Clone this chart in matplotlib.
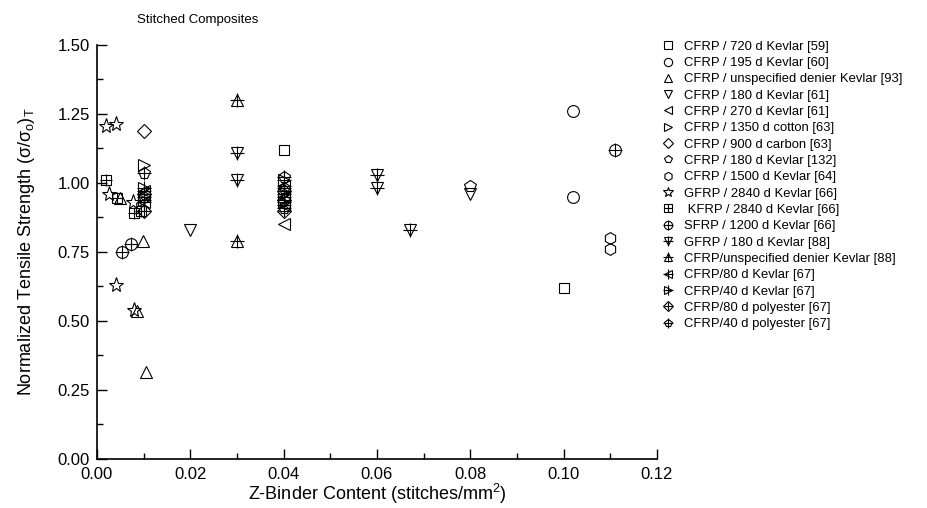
import matplotlib
matplotlib.use('Agg')
import matplotlib.pyplot as plt

plt.rcParams['font.family'] = ['Liberation Sans', 'DejaVu Sans']
plt.rcParams['mathtext.fontset'] = 'custom'
plt.rcParams['mathtext.rm'] = 'Liberation Sans'
plt.rcParams['mathtext.it'] = 'Liberation Sans:italic'

# data (z-binder content, normalized strength)
k720_x = [0.040, 0.100]
k720_y = [1.12, 0.62]
k195_x = [0.102, 0.102]
k195_y = [1.26, 0.95]
kuns93_x = [0.0050, 0.0098, 0.0086, 0.0105]
kuns93_y = [0.945, 0.79, 0.535, 0.315]
k180_61_x = [0.020, 0.080]
k180_61_y = [0.83, 0.96]
k270_x = [0.040]
k270_y = [0.85]
cotton_x = [0.010]
cotton_y = [1.065]
carbon_x = [0.010]
carbon_y = [1.19]
k180_132_x = [0.080]
k180_132_y = [0.99]
k1500_x = [0.110, 0.110]
k1500_y = [0.80, 0.76]
gfrp2840_x = [0.0020, 0.0040, 0.0025, 0.0040, 0.0080, 0.0078]
gfrp2840_y = [1.205, 1.215, 0.96, 0.63, 0.54, 0.93]
kfrp2840_x = [0.0020, 0.0042, 0.0080, 0.0095]
kfrp2840_y = [1.01, 0.945, 0.89, 0.90]
sfrp1200_x = [0.0054, 0.0072, 0.111]
sfrp1200_y = [0.75, 0.78, 1.12]
gfrp180_x = [0.030, 0.030, 0.060, 0.060, 0.067]
gfrp180_y = [1.11, 1.01, 1.03, 0.98, 0.83]
cuns88_x = [0.030, 0.030]
cuns88_y = [1.30, 0.79]
k80_x = [0.010, 0.010, 0.040, 0.040, 0.040]
k80_y = [0.97, 0.93, 0.99, 0.95, 0.92]
k40_x = [0.010, 0.010, 0.040, 0.040, 0.040]
k40_y = [0.98, 0.94, 1.01, 0.96, 0.93]
p80_x = [0.010, 0.010, 0.040, 0.040, 0.040]
p80_y = [0.96, 0.90, 0.97, 0.94, 0.90]
p40_x = [0.010, 0.010, 0.040, 0.040, 0.040]
p40_y = [1.035, 0.95, 1.02, 0.98, 0.91]

labels = [
    'CFRP / 720 d Kevlar [59]',
    'CFRP / 195 d Kevlar [60]',
    'CFRP / unspecified denier Kevlar [93]',
    'CFRP / 180 d Kevlar [61]',
    'CFRP / 270 d Kevlar [61]',
    'CFRP / 1350 d cotton [63]',
    'CFRP / 900 d carbon [63]',
    'CFRP / 180 d Kevlar [132]',
    'CFRP / 1500 d Kevlar [64]',
    'GFRP / 2840 d Kevlar [66]',
    ' KFRP / 2840 d Kevlar [66]',
    'SFRP / 1200 d Kevlar [66]',
    'GFRP / 180 d Kevlar [88]',
    'CFRP/unspecified denier Kevlar [88]',
    'CFRP/80 d Kevlar [67]',
    'CFRP/40 d Kevlar [67]',
    'CFRP/80 d polyester [67]',
    'CFRP/40 d polyester [67]',
]

# (x, y, marker shape, crossed with a plus?)
series = [
    (k720_x, k720_y, 's', False),
    (k195_x, k195_y, 'o', False),
    (kuns93_x, kuns93_y, '^', False),
    (k180_61_x, k180_61_y, 'v', False),
    (k270_x, k270_y, '<', False),
    (cotton_x, cotton_y, '>', False),
    (carbon_x, carbon_y, 'D', False),
    (k180_132_x, k180_132_y, 'p', False),
    (k1500_x, k1500_y, 'h', False),
    (gfrp2840_x, gfrp2840_y, '*', False),
    (kfrp2840_x, kfrp2840_y, 's', True),
    (sfrp1200_x, sfrp1200_y, 'o', True),
    (gfrp180_x, gfrp180_y, 'v', True),
    (cuns88_x, cuns88_y, '^', True),
    (k80_x, k80_y, '<', True),
    (k40_x, k40_y, '>', True),
    (p80_x, p80_y, 'D', True),
    (p40_x, p40_y, 'p', True),
]

sizes = {'s': 7.5, 'o': 8.5, '^': 9, 'v': 9, '<': 9, '>': 9, 'D': 7,
         'p': 8.5, 'h': 8.5, '*': 11}

fig = plt.figure(figsize=(9.28, 5.08), dpi=100)
ax = fig.add_axes([0.1045, 0.0965, 0.6034, 0.815])

handles = []
for x, y, m, crossed in series:
    ms = sizes[m]
    h1, = ax.plot(x, y, ls='none', marker=m, ms=ms, mfc='none',
                  mec='black', mew=0.8)
    if crossed:
        h2, = ax.plot(x, y, ls='none', marker='+', ms=ms + 1,
                      mec='black', mew=0.8)
        handles.append((h1, h2))
    else:
        handles.append(h1)

ax.set_xlim(0, 0.12)
ax.set_ylim(0, 1.5)
ax.set_xticks([0.00, 0.02, 0.04, 0.06, 0.08, 0.10, 0.12])
ax.set_xticks([0.01, 0.03, 0.05, 0.07, 0.09, 0.11], minor=True)
ax.set_yticks([0.00, 0.25, 0.50, 0.75, 1.00, 1.25, 1.50])
ax.set_yticks([0.125, 0.375, 0.625, 0.875, 1.125, 1.375], minor=True)
ax.xaxis.set_major_formatter(plt.FormatStrFormatter('%.2f'))
ax.yaxis.set_major_formatter(plt.FormatStrFormatter('%.2f'))
ax.tick_params(which='major', direction='in', length=7, width=1, labelsize=12)
ax.tick_params(which='minor', direction='in', length=4, width=1)
ax.tick_params(axis='x', which='major', pad=6)
ax.tick_params(axis='y', which='major', pad=5)
ax.spines['top'].set_visible(False)
ax.spines['right'].set_visible(False)
for s in ('left', 'bottom'):
    ax.spines[s].set_linewidth(1.2)

ax.set_xlabel('Z-Binder Content (stitches/mm$^2$)', fontsize=13, labelpad=0)
ax.set_ylabel(r'Normalized Tensile Strength (σ/σ$_\mathrm{o}$)$_\mathrm{T}$',
              fontsize=13, labelpad=15)
fig.text(0.148, 0.961, 'Stitched Composites', fontsize=9.5, va='center')

fig.legend(handles, labels, loc='upper left', bbox_to_anchor=(0.713, 0.92),
           frameon=False, fontsize=9.4, handlelength=1.0, handletextpad=0.7,
           labelspacing=0.32, borderaxespad=0, borderpad=0,
           markerscale=0.7)

fig.savefig('out.png', dpi=100)
